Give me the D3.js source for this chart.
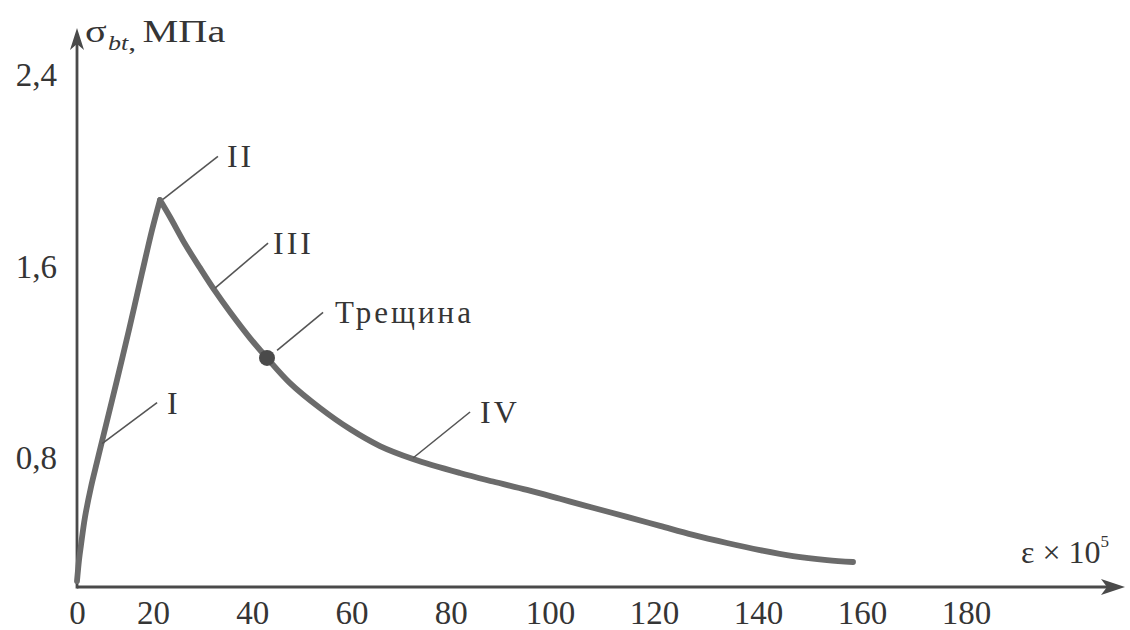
<!DOCTYPE html>
<html>
<head>
<meta charset="utf-8">
<script src="https://cdn.jsdelivr.net/npm/d3@7"></script>
<style>
  html, body { margin: 0; padding: 0; background: #fff; }
  svg { display: block; }
  text { font-family: "Liberation Serif", "DejaVu Serif", serif; fill: #353535; }
</style>
</head>
<body>
<svg id="chart" width="1130" height="630"></svg>
<script>
// Tensile stress–strain diagram of concrete: σbt (MPa) against ε × 10^5
const strain = [0, 0.53, 1.05, 2.11, 3.68, 5.26, 7.11, 10.53, 13.68, 17.11, 19.74, 21.41,
                23.43, 26.45, 29.47, 32.49, 35.52, 39.55, 42.97, 47.61, 53.65, 59.70,
                65.74, 72.39, 81.86, 88.5, 95.36, 101.92, 108.27, 114.81, 121.15, 127.50,
                134.04, 140.38, 146.73, 153.27, 158.27];
const stress = [0.037, 0.167, 0.260, 0.434, 0.620, 0.775, 0.904, 1.126, 1.335, 1.573, 1.752, 1.878,
                1.807, 1.694, 1.594, 1.498, 1.410, 1.301, 1.218, 1.113, 1.009, 0.921,
                0.850, 0.794, 0.707, 0.654, 0.602, 0.547, 0.491, 0.435, 0.379, 0.323,
                0.273, 0.229, 0.192, 0.167, 0.155];
const peakIndex = 11;        // ultimate tensile strength, stage II
const crackStrain = 42.97;   // crack opening point on the descending branch
const crackStress = 1.218;

const xTicks = [0, 20, 40, 60, 80, 100, 120, 140, 160, 180];
const yTicks = [0.8, 1.6, 2.4];
const yTickLabels = ["0,8", "1,6", "2,4"];

// stage labels: anchor on the curve (ε, σ) and label text
const stageNames = ["I", "II", "III", "Трещина", "IV"];
const stageStrain = [6.6, 22.0, 32.5, 45.0, 72.4];
const stageStress = [0.86, 1.88, 1.51, 1.25, 0.80];

// leader vectors (px) from the anchor to the label
const leaders = [[55, -41], [55, -43], [53, -45], [46, -38], [57, -46]];
const labelGap = [10, 9, 5, 12, 10];

const svg = d3.select("#chart");

const x = d3.scaleLinear().domain([0, 20, 100, 180]).range([77, 153, 550, 966]);
const y = d3.scaleLinear().domain([0, 0.8, 2.4]).range([587, 458, 75]);

const axisColor = "#4a4a4a";
const curveColor = "#6b6b6b";

// axes lines with arrowheads
const x0 = x(0), y0 = y(0);
const xEnd = 1125, yEnd = 28;
svg.append("line").attr("x1", x0).attr("y1", y0).attr("x2", xEnd - 10).attr("y2", y0)
  .attr("stroke", axisColor).attr("stroke-width", 2.8);
svg.append("line").attr("x1", x0).attr("y1", y0 + 1.4).attr("x2", x0).attr("y2", yEnd + 10)
  .attr("stroke", axisColor).attr("stroke-width", 2.8);
svg.append("path")
  .attr("d", `M${xEnd},${y0} L${xEnd - 24},${y0 - 8} L${xEnd - 18},${y0} L${xEnd - 24},${y0 + 8} Z`)
  .attr("fill", axisColor);
svg.append("path")
  .attr("d", `M${x0},${yEnd} L${x0 - 7},${yEnd + 22} L${x0},${yEnd + 16} L${x0 + 7},${yEnd + 22} Z`)
  .attr("fill", axisColor);

// tick labels
const gx = svg.append("g").attr("transform", `translate(0,${y0})`)
  .call(d3.axisBottom(x).tickValues(xTicks).tickSize(0).tickPadding(14).tickFormat(d3.format("d")));
gx.select(".domain").remove();
gx.selectAll("text").attr("font-size", 33).attr("font-family", "Liberation Serif").attr("fill", "#353535");

const gy = svg.append("g").attr("transform", `translate(${x0},0)`)
  .call(d3.axisLeft(y).tickValues(yTicks).tickSize(0).tickPadding(20)
    .tickFormat((d, i) => yTickLabels[i]));
gy.select(".domain").remove();
gy.selectAll("text").attr("font-size", 33).attr("font-family", "Liberation Serif").attr("fill", "#353535");

// axis titles
const yTitle = svg.append("text").attr("transform", "translate(85,42) scale(1.3,1)").attr("font-size", 31);
yTitle.append("tspan").text("σ");
yTitle.append("tspan").attr("font-size", 20).attr("font-style", "italic").attr("dy", 8).attr("dx", 1).text("bt");
yTitle.append("tspan").attr("font-size", 24).text(",");
yTitle.append("tspan").attr("dy", -8).attr("dx", 5).text("МПа");

const xTitle = svg.append("text").attr("x", 1021).attr("y", 563).attr("font-size", 32);
xTitle.append("tspan").text("ε × 10");
xTitle.append("tspan").attr("font-size", 17).attr("dy", -16).text("5");

// curve: ascending and descending branches meeting at the peak
const pts = strain.map((e, i) => [e, stress[i]]);
const line = d3.line().x(d => x(d[0])).y(d => y(d[1])).curve(d3.curveCatmullRom.alpha(0.5));
[pts.slice(0, peakIndex + 1), pts.slice(peakIndex)].forEach(seg => {
  svg.append("path").attr("d", line(seg))
    .attr("fill", "none").attr("stroke", curveColor)
    .attr("stroke-width", 5.8).attr("stroke-linecap", "round").attr("stroke-linejoin", "round");
});

// crack point
svg.append("circle").attr("cx", x(crackStrain)).attr("cy", y(crackStress)).attr("r", 8)
  .attr("fill", "#4a4a4a");

// stage annotations
stageNames.forEach((name, i) => {
  const ax = x(stageStrain[i]), ay = y(stageStress[i]);
  const [dx, dy] = leaders[i];
  svg.append("line").attr("x1", ax).attr("y1", ay).attr("x2", ax + dx).attr("y2", ay + dy)
    .attr("stroke", "#555").attr("stroke-width", 1.6);
  svg.append("text").attr("x", ax + dx + labelGap[i]).attr("y", ay + dy)
    .attr("dominant-baseline", "central")
    .attr("font-size", name === "Трещина" ? 31 : 32)
    .attr("letter-spacing", name === "Трещина" ? 3 : (name.length > 1 ? 3 : 0))
    .text(name);
});
</script>
</body>
</html>
